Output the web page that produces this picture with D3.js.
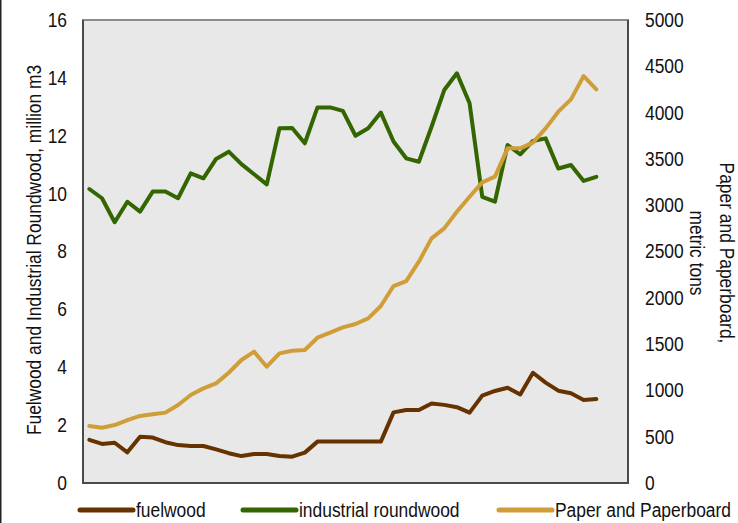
<!DOCTYPE html>
<html>
<head>
<meta charset="utf-8">
<script src="https://cdn.jsdelivr.net/npm/d3@7"></script>
<style>
  body { margin: 0; background: #fff; }
  svg text { font-family: "Liberation Sans", Arial, sans-serif; fill: #111; }
</style>
</head>
<body>
<div id="chart"></div>
<script>
// Years on the category axis (last two are empty slots)
const years = d3.range(1970, 2013);

// Left axis series, million m3
const fuelwood = [1.49, 1.35, 1.39, 1.06, 1.60, 1.57, 1.41, 1.31, 1.28, 1.28, 1.16, 1.03, 0.93, 1.00, 1.00, 0.93, 0.91, 1.05,
    1.43, 1.43, 1.43, 1.43, 1.43, 1.43,
    2.44, 2.52, 2.52, 2.75, 2.70, 2.62, 2.43, 3.02, 3.18, 3.29, 3.06, 3.81, 3.47, 3.19, 3.10, 2.87, 2.90];
const industrialRoundwood = [10.16, 9.84, 9.01, 9.72, 9.38, 10.07, 10.07, 9.84, 10.70, 10.53, 11.20, 11.45, 11.02, 10.67, 10.32,
    12.26, 12.27, 11.74, 12.98, 12.98, 12.86, 12.00, 12.26, 12.80, 11.80, 11.22, 11.10, 12.31, 13.58, 14.16, 13.12,
    9.89, 9.72, 11.68, 11.36, 11.82, 11.91, 10.87, 10.99, 10.44, 10.58];

// Right axis series, metric tons
const paperboard = [615, 597, 626, 680, 724, 742, 760, 842, 950, 1022, 1076, 1191, 1328, 1418, 1256, 1400, 1429, 1436,
    1569, 1623, 1681, 1717, 1778, 1911, 2127, 2181, 2390, 2642, 2750, 2930, 3092, 3247, 3308, 3614, 3614, 3675,
    3830, 4010, 4143, 4395, 4252];

const leftTicks = d3.range(0, 17, 2);
const rightTicks = d3.range(0, 5001, 500);

const seriesNames = ["fuelwood", "industrial roundwood", "Paper and Paperboard"];
const colors = { "fuelwood": "#663300", "industrial roundwood": "#336600", "Paper and Paperboard": "#d09e38" };

const width = 738, height = 523;
const plot = { left: 83, right: 628, top: 20, bottom: 483 };
const fontSize = 20;
const squeeze = 0.87; // the text in the reference looks condensed

const svg = d3.select('#chart').append('svg')
    .attr('width', width)
    .attr('height', height);

svg.append('rect').attr('width', width).attr('height', height).attr('fill', '#fff');
// left edge of the outer frame
svg.append('line').attr('x1', 0.75).attr('x2', 0.75).attr('y1', 0).attr('y2', height)
    .attr('stroke', '#222').attr('stroke-width', 1.5);

const x = d3.scalePoint().domain(years).range([plot.left, plot.right]).padding(0.5);
const yLeft = d3.scaleLinear().domain([0, 16]).range([plot.bottom, plot.top]);
const yRight = d3.scaleLinear().domain([0, 5000]).range([plot.bottom, plot.top]);

// plot area
svg.append('rect')
    .attr('x', plot.left).attr('y', plot.top)
    .attr('width', plot.right - plot.left).attr('height', plot.bottom - plot.top)
    .attr('fill', '#e8e8e8')
    .attr('stroke', '#8c8c8c').attr('stroke-width', 2);
svg.append('path')
    .attr('d', `M${plot.left},${plot.top}V${plot.bottom}H${plot.right}V${plot.top}`)
    .attr('fill', 'none').attr('stroke', '#4a4a4a').attr('stroke-width', 2);

// axes, labels only
const axL = svg.append('g').attr('transform', `translate(${plot.left},0)`)
    .call(d3.axisLeft(yLeft).tickValues(leftTicks).tickFormat(d3.format('d')).tickSize(0).tickPadding(16));
const axR = svg.append('g').attr('transform', `translate(${plot.right},0)`)
    .call(d3.axisRight(yRight).tickValues(rightTicks).tickFormat(d3.format('d')).tickSize(0).tickPadding(17));
[axL, axR].forEach(a => {
    a.select('.domain').remove();
    a.selectAll('text').attr('font-size', fontSize).attr('fill', '#111')
        .style('font-family', '"Liberation Sans", Arial, sans-serif')
        .each(function() {
            const len = this.getComputedTextLength();
            d3.select(this).attr('textLength', len * squeeze).attr('lengthAdjust', 'spacingAndGlyphs');
        });
});

// lines
const lineL = d3.line().x((d, i) => x(years[i])).y(d => yLeft(d));
const lineR = d3.line().x((d, i) => x(years[i])).y(d => yRight(d));

const drawn = [
    { name: "fuelwood", values: fuelwood, gen: lineL },
    { name: "industrial roundwood", values: industrialRoundwood, gen: lineL },
    { name: "Paper and Paperboard", values: paperboard, gen: lineR }
];
svg.selectAll('path.series')
    .data(drawn)
    .enter().append('path')
    .attr('class', 'series')
    .attr('d', d => d.gen(d.values))
    .attr('fill', 'none')
    .attr('stroke', d => colors[d.name])
    .attr('stroke-width', 4)
    .attr('stroke-linejoin', 'round')
    .attr('stroke-linecap', 'round');

// axis titles (condensed with a scale in the text direction)
svg.append('text')
    .attr('transform', `translate(41,250) rotate(-90) scale(${squeeze},1)`)
    .attr('text-anchor', 'middle')
    .attr('font-size', fontSize)
    .text('Fuelwood and Industrial Roundwood, million m3');

svg.append('text')
    .attr('transform', `translate(720,253) rotate(90) scale(${squeeze},1)`)
    .attr('text-anchor', 'middle')
    .attr('font-size', fontSize)
    .text('Paper and Paperboard,');
svg.append('text')
    .attr('transform', `translate(690,253) rotate(90) scale(${squeeze},1)`)
    .attr('text-anchor', 'middle')
    .attr('font-size', fontSize)
    .text('metric tons');

// legend
const legendX = [78, 241, 497];
const legend = svg.selectAll('g.legend')
    .data(seriesNames)
    .enter().append('g')
    .attr('class', 'legend')
    .attr('transform', (d, i) => `translate(${legendX[i]},510)`);
legend.append('line')
    .attr('x1', 2).attr('x2', 55)
    .attr('stroke', d => colors[d])
    .attr('stroke-width', 5)
    .attr('stroke-linecap', 'round');
legend.append('text')
    .attr('transform', `translate(58,7) scale(${squeeze},1)`)
    .attr('font-size', fontSize)
    .text(d => d);
</script>
</body>
</html>
